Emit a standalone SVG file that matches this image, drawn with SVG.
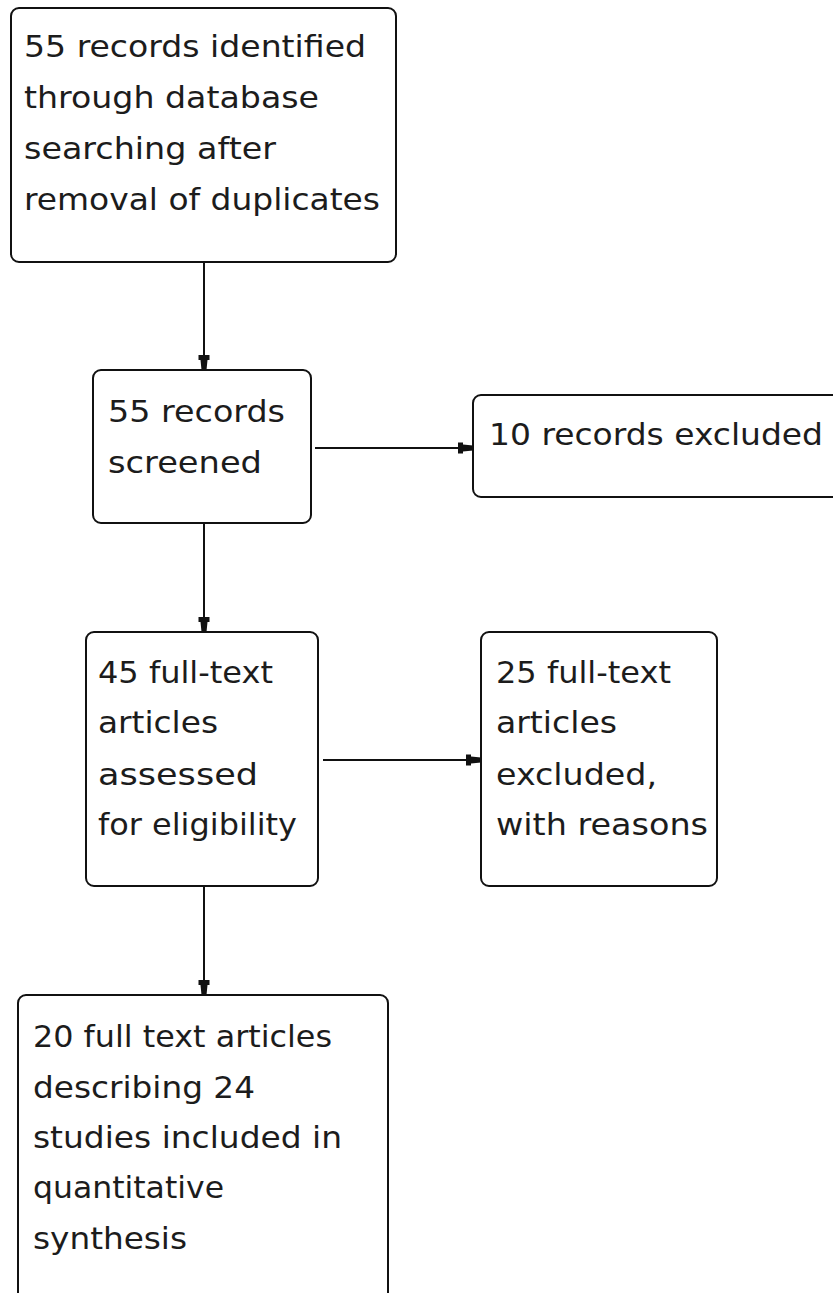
<svg xmlns="http://www.w3.org/2000/svg" width="833" height="1293" viewBox="0 0 833 1293">
<style>
.box{fill:#fff;stroke:#111;stroke-width:2}
.t{font-family:"DejaVu Sans","Liberation Sans",sans-serif;font-size:31px;fill:#1c1c1c}
.c{fill:none;stroke:#111;stroke-width:2}
</style>
<defs>
<marker id="ah" markerUnits="userSpaceOnUse" markerWidth="18" markerHeight="14" refX="17" refY="7" orient="auto">
<path d="M2,1.5 L7,1.5 L7,3.5 L17,4.5 L17,9.5 L7,10.5 L7,12.5 L2,12.5 Z" fill="#111"/>
</marker>
</defs>
<rect width="833" height="1293" fill="#fff"/>
<g id="connectors">
<line class="c" x1="204" y1="262" x2="204" y2="370" marker-end="url(#ah)"/>
<line class="c" x1="315" y1="448" x2="473" y2="448" marker-end="url(#ah)"/>
<line class="c" x1="204" y1="523" x2="204" y2="632" marker-end="url(#ah)"/>
<line class="c" x1="323" y1="760" x2="481" y2="760" marker-end="url(#ah)"/>
<line class="c" x1="204" y1="886" x2="204" y2="995" marker-end="url(#ah)"/>
</g>
<g id="identified">
<rect class="box" x="11" y="8" width="385" height="254" rx="8"/>
<text class="t" x="24" y="57" textLength="342" lengthAdjust="spacingAndGlyphs">55 records identified</text>
<text class="t" x="24" y="108" textLength="295" lengthAdjust="spacingAndGlyphs">through database</text>
<text class="t" x="24" y="159" textLength="252" lengthAdjust="spacingAndGlyphs">searching after</text>
<text class="t" x="24" y="210" textLength="356" lengthAdjust="spacingAndGlyphs">removal of duplicates</text>
</g>
<g id="screened">
<rect class="box" x="93" y="370" width="218" height="153" rx="8"/>
<text class="t" x="108" y="422" textLength="177" lengthAdjust="spacingAndGlyphs">55 records</text>
<text class="t" x="108" y="473" textLength="154" lengthAdjust="spacingAndGlyphs">screened</text>
</g>
<g id="excluded">
<rect class="box" x="473" y="395" width="372" height="102" rx="8"/>
<text class="t" x="489" y="445" textLength="334" lengthAdjust="spacingAndGlyphs">10 records excluded</text>
</g>
<g id="assessed">
<rect class="box" x="86" y="632" width="232" height="254" rx="8"/>
<text class="t" x="98" y="683" textLength="175" lengthAdjust="spacingAndGlyphs">45 full-text</text>
<text class="t" x="98" y="733" textLength="120" lengthAdjust="spacingAndGlyphs">articles</text>
<text class="t" x="98" y="785" textLength="160" lengthAdjust="spacingAndGlyphs">assessed</text>
<text class="t" x="98" y="835" textLength="199" lengthAdjust="spacingAndGlyphs">for eligibility</text>
</g>
<g id="excluded-full">
<rect class="box" x="481" y="632" width="236" height="254" rx="8"/>
<text class="t" x="496" y="683" textLength="175" lengthAdjust="spacingAndGlyphs">25 full-text</text>
<text class="t" x="496" y="733" textLength="121" lengthAdjust="spacingAndGlyphs">articles</text>
<text class="t" x="496" y="785" textLength="161" lengthAdjust="spacingAndGlyphs">excluded,</text>
<text class="t" x="496" y="835" textLength="212" lengthAdjust="spacingAndGlyphs">with reasons</text>
</g>
<g id="included">
<rect class="box" x="18" y="995" width="370" height="320" rx="8"/>
<text class="t" x="33" y="1047" textLength="299" lengthAdjust="spacingAndGlyphs">20 full text articles</text>
<text class="t" x="33" y="1098" textLength="222" lengthAdjust="spacingAndGlyphs">describing 24</text>
<text class="t" x="33" y="1148" textLength="309" lengthAdjust="spacingAndGlyphs">studies included in</text>
<text class="t" x="33" y="1198" textLength="191" lengthAdjust="spacingAndGlyphs">quantitative</text>
<text class="t" x="33" y="1249" textLength="154" lengthAdjust="spacingAndGlyphs">synthesis</text>
</g>
</svg>
